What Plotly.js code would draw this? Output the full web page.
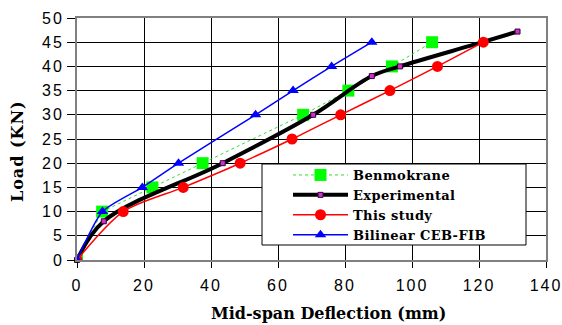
<!DOCTYPE html>
<html>
<head>
<meta charset="utf-8">
<script src="https://cdn.plot.ly/plotly-3.0.1.min.js"></script>
<style>
html,body{margin:0;padding:0;background:#fff;}
#chart{width:562px;height:325px;}
#chart .legendtext{letter-spacing:0.4px;font-family:"DejaVu Serif",serif !important;font-weight:bold !important;}
#chart .legend .scrollbox{clip-path:none !important;}
#chart .xtick text,#chart .ytick text{letter-spacing:2px;}
#chart .annotation-text{font-family:"DejaVu Serif",serif !important;font-weight:bold !important;}
</style>
</head>
<body>
<div id="chart"></div>
<script>
const benmokraneX = [0, 7.5, 22.5, 37.5, 67.5, 81, 94, 106];
const benmokraneY = [0, 10, 15, 20, 30, 35, 40, 45];
const experimentalX = [0, 8, 43.5, 70.5, 88, 96.4, 121, 131.5];
const experimentalY = [0, 8, 20, 30, 38, 40, 45, 47.2];
const studyX = [0, 13.8, 31.7, 48.7, 64.2, 78.7, 93.4, 107.6, 121.3];
const studyY = [0, 10, 15, 20, 25, 30, 35, 40, 45];
const cebX = [0, 7.6, 19.5, 30.3, 53.3, 64.5, 76, 88];
const cebY = [0, 10, 15, 20, 30, 35, 40, 45];
const xTicks = [0, 20, 40, 60, 80, 100, 120, 140];
const yTicks = [0, 5, 10, 15, 20, 25, 30, 35, 40, 45, 50];

const SERIF = 'DejaVu Serif';
const SANS = 'Liberation Sans';

const traces = [
  {x: benmokraneX, y: benmokraneY, name: 'Benmokrane', mode: 'lines+markers',
   line: {color: '#33dd33', width: 1, dash: 'dot'},
   marker: {symbol: 'square', size: 12, color: '#00ff00'}},
  {x: experimentalX, y: experimentalY, name: 'Experimental', mode: 'lines+markers',
   line: {color: '#000000', width: 4, shape: 'spline', smoothing: 1},
   marker: {symbol: 'square', size: 5, color: '#cc33cc', line: {color: '#330033', width: 1}},
   cliponaxis: false},
  {x: studyX, y: studyY, name: 'This study', mode: 'lines+markers',
   line: {color: '#ff0000', width: 1.5, shape: 'spline', smoothing: 0.8},
   marker: {symbol: 'circle', size: 11, color: '#ff0000'}},
  {x: cebX, y: cebY, name: 'Bilinear CEB-FIB', mode: 'lines+markers',
   line: {color: '#0000ff', width: 1.5, shape: 'spline', smoothing: 0.6},
   marker: {symbol: 'triangle-up', size: 10, color: '#0000ff'}}
];

// plot area in pixels: x 77..546, y 18..260
const px = v => (v - 77) / 469;
const py = v => (260 - v) / 242;

const layout = {
  width: 562, height: 325,
  margin: {l: 77, r: 16, t: 18, b: 65},
  paper_bgcolor: '#ffffff', plot_bgcolor: '#ffffff',
  showlegend: true,
  shapes: [{type: 'rect', xref: 'paper', yref: 'paper',
    x0: px(262), x1: px(526), y0: py(245), y1: py(164),
    fillcolor: '#ffffff', line: {color: '#000000', width: 1}, layer: 'above'}],
  legend: {x: px(288), y: py(160), xanchor: 'left', yanchor: 'top',
    bgcolor: 'rgba(0,0,0,0)', borderwidth: 0,
    font: {family: SERIF, size: 13, color: '#000'},
    tracegroupgap: 0, itemwidth: 55},
  annotations: [
    {text: 'Mid-span Deflection (mm)', xref: 'paper', yref: 'paper',
     x: px(328), y: py(313), xanchor: 'center', yanchor: 'middle', showarrow: false,
     font: {family: SERIF, size: 16, color: '#000'}},
    {text: 'Load (KN)', xref: 'paper', yref: 'paper', textangle: -90,
     x: px(17), y: py(151), xanchor: 'center', yanchor: 'middle', showarrow: false,
     font: {family: SERIF, size: 16, color: '#000'}}
  ],
  xaxis: {range: [0, 140], tickvals: xTicks, ticktext: xTicks.map(String),
    showgrid: true, gridcolor: '#000000', gridwidth: 1,
    showline: true, linecolor: '#808080', linewidth: 2, mirror: true,
    ticks: 'outside', ticklen: 6, tickcolor: '#000', zeroline: false,
    ticklabelstandoff: 4,
    tickfont: {family: SANS, size: 16, color: '#000'}},
  yaxis: {range: [0, 50], tickvals: yTicks, ticktext: yTicks.map(String),
    showgrid: true, gridcolor: '#000000', gridwidth: 1,
    showline: true, linecolor: '#808080', linewidth: 2, mirror: true,
    ticks: 'outside', ticklen: 8, tickcolor: '#000', zeroline: false,
    tickfont: {family: SANS, size: 16, color: '#000'}}
};

Plotly.newPlot('chart', traces, layout, {displayModeBar: false, staticPlot: true}).then(gd => {
  const anns = gd.querySelectorAll('.annotation-text');
  if (anns[1]) anns[1].style.letterSpacing = '1px';
});
</script>
</body>
</html>
